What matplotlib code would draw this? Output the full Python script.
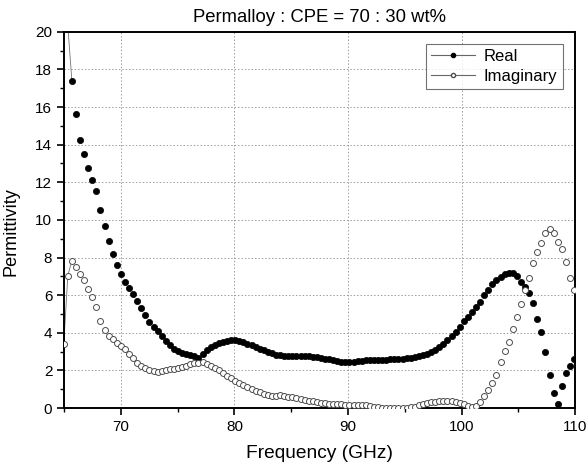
import numpy as np
import matplotlib
matplotlib.use('Agg')
from matplotlib import pyplot as plt
from matplotlib.ticker import MultipleLocator

plt.rcParams['font.family'] = ['Liberation Sans', 'DejaVu Sans']

# measurement grid (GHz), one point every ~0.36 GHz
freq = 64.97 + 0.3595 * np.arange(126)

real = [24.0, 20.3, 17.36, 15.64, 14.26, 13.53, 12.78, 12.11, 11.54, 10.53,
        9.68, 8.9, 8.17, 7.6, 7.11, 6.72, 6.38, 6.06, 5.69, 5.32,
        4.93, 4.57, 4.33, 4.1, 3.83, 3.56, 3.35, 3.16, 3.02, 2.94,
        2.87, 2.82, 2.78, 2.64, 2.87, 3.09, 3.25, 3.37, 3.46, 3.53,
        3.58, 3.6, 3.6, 3.56, 3.49, 3.42, 3.35, 3.26, 3.16, 3.07,
        2.98, 2.91, 2.84, 2.8, 2.78, 2.76, 2.74, 2.74, 2.75, 2.76,
        2.75, 2.73, 2.7, 2.66, 2.63, 2.6, 2.55, 2.5, 2.46, 2.43,
        2.44, 2.47, 2.5, 2.52, 2.53, 2.54, 2.55, 2.56, 2.56, 2.57,
        2.58, 2.59, 2.6, 2.62, 2.64, 2.67, 2.7, 2.74, 2.8, 2.86,
        2.96, 3.08, 3.24, 3.42, 3.62, 3.83, 4.06, 4.33, 4.63, 4.86,
        5.12, 5.35, 5.66, 5.99, 6.28, 6.58, 6.81, 6.99, 7.13, 7.18,
        7.17, 7.04, 6.68, 6.42, 6.1, 5.57, 4.73, 4.06, 2.96, 1.76,
        0.78, 0.21, 1.17, 1.84, 2.25, 2.59]

imag = [3.39, 7.04, 7.84, 7.5, 7.11, 6.83, 6.31, 5.92, 5.35, 4.63,
        4.17, 3.81, 3.66, 3.46, 3.32, 3.13, 2.88, 2.65, 2.42, 2.24,
        2.14, 2.01, 1.96, 1.94, 1.96, 2.0, 2.05, 2.1, 2.14, 2.19,
        2.26, 2.32, 2.37, 2.42, 2.44, 2.32, 2.22, 2.13, 2.0, 1.86,
        1.72, 1.6, 1.45, 1.33, 1.23, 1.12, 1.01, 0.92, 0.83, 0.76,
        0.69, 0.65, 0.65, 0.67, 0.65, 0.61, 0.56, 0.53, 0.5, 0.45,
        0.4, 0.35, 0.31, 0.28, 0.25, 0.23, 0.21, 0.2, 0.19, 0.18,
        0.18, 0.17, 0.17, 0.16, 0.15, 0.12, 0.08, 0.04, 0.02, 0.0,
        -0.02, 0.0, -0.01, 0.0, 0.02, 0.03, 0.08, 0.15, 0.22, 0.27,
        0.3, 0.33, 0.35, 0.37, 0.37, 0.36, 0.33, 0.27, 0.2, 0.12,
        0.05, 0.13, 0.34, 0.64, 0.96, 1.35, 1.77, 2.45, 3.01, 3.49,
        4.2, 4.86, 5.53, 6.28, 6.93, 7.7, 8.3, 8.76, 9.29, 9.5,
        9.29, 8.85, 8.44, 7.75, 6.9, 6.28]

fig = plt.figure(figsize=(5.88, 4.75), dpi=100)
ax = fig.add_axes([0.109, 0.141, 0.869, 0.792])

# thin connecting line only shows at the steep start
ax.plot(freq[:3], real[:3], '-', color='0.45', lw=0.6, zorder=2)
ax.plot(freq[:3], imag[:3], '-', color='0.45', lw=0.6, zorder=2)

ax.plot(freq, real, 'o', color='black', ms=4.5, mec='black', mew=0.5,
        zorder=3)
ax.plot(freq, imag, 'o', mfc='white', mec='0.3', ms=4.3, mew=0.7,
        zorder=3)

# legend proxies: line with marker in the middle
h1, = ax.plot([], [], '-', color='0.4', lw=0.8, marker='o', ms=3,
              mfc='black', mec='black', label='Real')
h2, = ax.plot([], [], '-', color='0.4', lw=0.8, marker='o', ms=3,
              mfc='white', mec='0.3', label='Imaginary')
leg = ax.legend(handles=[h1, h2], loc='upper right', fontsize=12,
                frameon=True, fancybox=False, edgecolor='0.3',
                borderpad=0.3, handlelength=2.6, handletextpad=0.55,
                labelspacing=0.3, borderaxespad=0.75, numpoints=1)
leg.get_frame().set_linewidth(0.8)

ax.set_xlim(65, 110)
ax.set_ylim(0, 20)
ax.xaxis.set_major_locator(MultipleLocator(10))
ax.xaxis.set_minor_locator(MultipleLocator(5))
ax.yaxis.set_major_locator(MultipleLocator(2))
ax.yaxis.set_minor_locator(MultipleLocator(1))
ax.set_xticks([70, 80, 90, 100, 110])
ax.tick_params(which='major', direction='out', length=5, width=1.2,
               labelsize=11, top=False, right=False)
ax.tick_params(which='minor', direction='out', length=3, width=1.0,
               top=False, right=False)
ax.grid(True, which='major', linestyle=(0, (1.5, 2)), color='0.62', lw=0.7)
for sp in ax.spines.values():
    sp.set_linewidth(1.4)

ax.set_xlabel('Frequency (GHz)', fontsize=13.8, labelpad=8)
ax.set_ylabel('Permittivity', fontsize=13.1)
ax.yaxis.set_label_coords(-0.088, 0.468)
ax.set_title('Permalloy : CPE = 70 : 30 wt%', fontsize=13.3, pad=7)

plt.savefig('out.png', dpi=100)
